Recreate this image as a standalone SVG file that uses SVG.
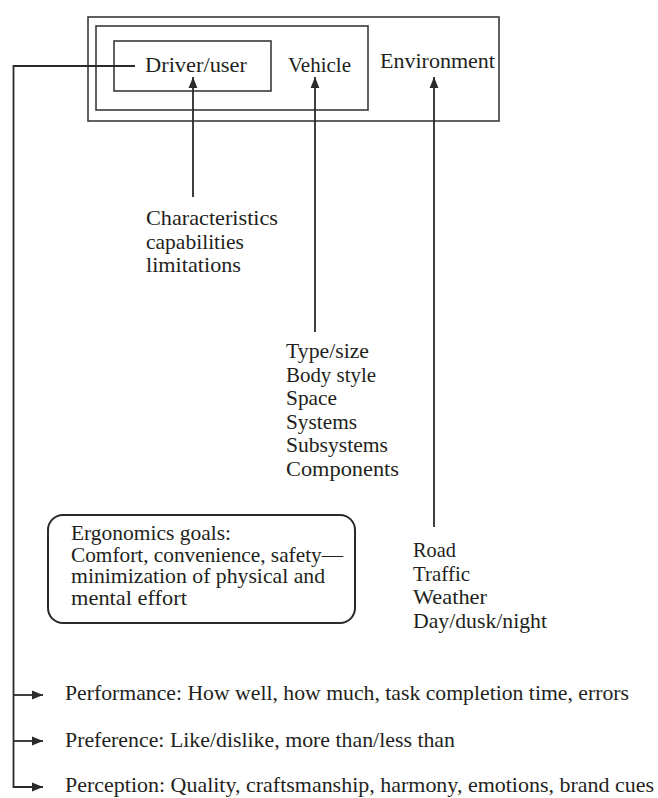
<svg xmlns="http://www.w3.org/2000/svg" width="658" height="798" viewBox="0 0 658 798">
<style>
  text { font-family: "Liberation Serif", "Times New Roman", serif; font-size: 21px; fill: #231f20; }
  .box { fill: none; stroke: #3a3a3a; stroke-width: 1.6; }
  .ln { fill: none; stroke: #2a2a2a; stroke-width: 1.8; }
</style>
<defs>
  <marker id="ah" viewBox="0 0 10 10" refX="10" refY="5" markerWidth="11" markerHeight="11" markerUnits="userSpaceOnUse" orient="auto">
    <path d="M0,1 L10,5 L0,9 Z" fill="#2a2a2a"/>
  </marker>
</defs>
<rect width="658" height="798" fill="#ffffff"/>

<g id="environment">
  <rect class="box" x="88" y="17" width="411" height="104"/>
  <text x="380" y="68" textLength="115" lengthAdjust="spacingAndGlyphs">Environment</text>
</g>
<g id="vehicle">
  <rect class="box" x="96" y="26" width="272" height="84"/>
  <text x="288" y="72" textLength="63" lengthAdjust="spacingAndGlyphs">Vehicle</text>
</g>
<g id="driver">
  <rect class="box" x="114" y="41" width="157" height="50"/>
  <text x="145" y="72" textLength="102" lengthAdjust="spacingAndGlyphs">Driver/user</text>
</g>

<g id="driver-attributes">
  <text x="146" y="225" textLength="132" lengthAdjust="spacingAndGlyphs">Characteristics</text>
  <text x="146" y="248.5" textLength="98" lengthAdjust="spacingAndGlyphs">capabilities</text>
  <text x="146" y="272" textLength="95" lengthAdjust="spacingAndGlyphs">limitations</text>
</g>

<g id="vehicle-attributes">
  <text x="286" y="358" textLength="83" lengthAdjust="spacingAndGlyphs">Type/size</text>
  <text x="286" y="382" textLength="90" lengthAdjust="spacingAndGlyphs">Body style</text>
  <text x="286" y="405" textLength="51" lengthAdjust="spacingAndGlyphs">Space</text>
  <text x="286" y="429" textLength="71" lengthAdjust="spacingAndGlyphs">Systems</text>
  <text x="286" y="452" textLength="102" lengthAdjust="spacingAndGlyphs">Subsystems</text>
  <text x="286" y="476" textLength="113" lengthAdjust="spacingAndGlyphs">Components</text>
</g>

<g id="environment-attributes">
  <text x="413" y="557" textLength="43" lengthAdjust="spacingAndGlyphs">Road</text>
  <text x="413" y="580.5" textLength="57" lengthAdjust="spacingAndGlyphs">Traffic</text>
  <text x="413" y="604" textLength="74" lengthAdjust="spacingAndGlyphs">Weather</text>
  <text x="413" y="628" textLength="134" lengthAdjust="spacingAndGlyphs">Day/dusk/night</text>
</g>

<g id="ergonomics-goals">
  <rect x="48" y="515" width="307" height="108" rx="15" ry="15" fill="none" stroke="#2a2a2a" stroke-width="2"/>
  <text x="71" y="540" textLength="160" lengthAdjust="spacingAndGlyphs">Ergonomics goals:</text>
  <text x="71" y="561.7" textLength="272" lengthAdjust="spacingAndGlyphs">Comfort, convenience, safety—</text>
  <text x="71" y="583.4" textLength="254" lengthAdjust="spacingAndGlyphs">minimization of physical and</text>
  <text x="71" y="605" textLength="116" lengthAdjust="spacingAndGlyphs">mental effort</text>
</g>

<g id="outcomes">
  <text x="65" y="700" textLength="564" lengthAdjust="spacingAndGlyphs">Performance: How well, how much, task completion time, errors</text>
  <text x="65" y="746.5" textLength="390" lengthAdjust="spacingAndGlyphs">Preference: Like/dislike, more than/less than</text>
  <text x="65" y="792" textLength="589" lengthAdjust="spacingAndGlyphs">Perception: Quality, craftsmanship, harmony, emotions, brand cues</text>
</g>

<g id="connectors">
  <line class="ln" x1="193" y1="197" x2="193" y2="77" marker-end="url(#ah)"/>
  <line class="ln" x1="315" y1="332" x2="315" y2="77" marker-end="url(#ah)"/>
  <line class="ln" x1="434" y1="527" x2="434" y2="77" marker-end="url(#ah)"/>
  <path class="ln" d="M135,66 H13.5 V787 H43" marker-end="url(#ah)"/>
  <line class="ln" x1="13.5" y1="695" x2="43" y2="695" marker-end="url(#ah)"/>
  <line class="ln" x1="13.5" y1="741" x2="43" y2="741" marker-end="url(#ah)"/>
</g>
</svg>
